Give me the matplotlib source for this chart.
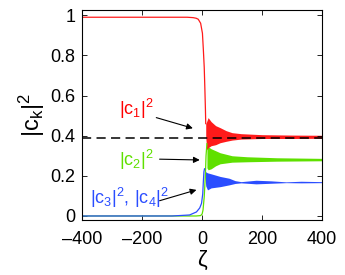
import matplotlib
matplotlib.use('Agg')
import matplotlib.pyplot as plt
import numpy as np

plt.rcParams['font.family'] = ['Liberation Sans', 'DejaVu Sans']
plt.rcParams['mathtext.fontset'] = 'custom'
plt.rcParams['mathtext.rm'] = 'Liberation Sans'
plt.rcParams['mathtext.it'] = 'Liberation Sans'

# smooth (non-oscillating) parts
z_c1 = [-400, -100, -50, -30, -20, -13, -5, 1, 4, 7, 9, 11, 12]
c1 = [0.99, 0.99, 0.99, 0.988, 0.985, 0.98, 0.96, 0.91, 0.83, 0.74, 0.64, 0.53, 0.46]
z_c2 = [-400, -100, -20, -5, 0, 3, 7, 11, 13, 16]
c2 = [0.0, 0.0, 0.0, 0.002, 0.01, 0.03, 0.096, 0.21, 0.30, 0.36]
z_c3 = [-400, -100, -42, -19, -8, -2, 2, 4, 6, 8]
c3 = [0.0, 0.0, 0.005, 0.02, 0.04, 0.063, 0.11, 0.17, 0.22, 0.235]

# envelopes of the fast oscillations
zb_c1 = [12, 15, 20, 30, 45, 60, 80, 100, 130, 200, 300, 400]
c1_hi = [0.46, 0.47, 0.49, 0.47, 0.45, 0.44, 0.425, 0.415, 0.41, 0.405, 0.403, 0.402]
c1_lo = [0.40, 0.33, 0.34, 0.35, 0.355, 0.365, 0.372, 0.378, 0.383, 0.386, 0.386, 0.387]
zb_c2 = [16, 20, 30, 45, 60, 100, 150, 250, 400]
c2_hi = [0.36, 0.345, 0.335, 0.325, 0.315, 0.30, 0.295, 0.29, 0.287]
c2_lo = [0.24, 0.23, 0.235, 0.25, 0.26, 0.268, 0.27, 0.273, 0.275]
zb_c3 = [8, 12, 18, 30, 60, 90, 110, 130, 180, 230, 280, 330, 400]
c3_hi = [0.235, 0.22, 0.215, 0.21, 0.197, 0.188, 0.176, 0.171, 0.178, 0.175, 0.17, 0.173, 0.171]
c3_lo = [0.22, 0.15, 0.13, 0.14, 0.146, 0.155, 0.162, 0.165, 0.16, 0.163, 0.166, 0.165, 0.166]

limit = 0.39

red = '#ff1a1a'
green = '#5fe000'
blue = '#2a4dff'

fig = plt.figure(figsize=(3.45, 2.75), dpi=100)
ax = fig.add_axes([0.2385, 0.2, 0.6948, 0.7636])

ax.plot(z_c2, c2, color=green, lw=0.9)
ax.fill_between(zb_c2, c2_lo, c2_hi, color=green, lw=0)
ax.plot(z_c3, c3, color=blue, lw=0.9)
ax.fill_between(zb_c3, c3_lo, c3_hi, color=blue, lw=0)
ax.plot(z_c1, c1, color=red, lw=0.9)
ax.fill_between(zb_c1, c1_lo, c1_hi, color=red, lw=0)

ax.plot([-400, 400], [limit, limit], color='k', lw=1.1, dashes=(6, 3.5))

arr = dict(arrowstyle='-|>', color='k', lw=0.8, mutation_scale=9, shrinkA=0, shrinkB=0)
ax.annotate('', xy=(-31, 0.437), xytext=(-153, 0.49), arrowprops=arr)
ax.annotate('', xy=(-8, 0.279), xytext=(-142, 0.283), arrowprops=arr)
ax.annotate('', xy=(-19, 0.13), xytext=(-142, 0.076), arrowprops=arr)
ax.text(-220, 0.533, r'$\mathrm{|c_1|^2}$', color='#ff0000', fontsize=13, ha='center', va='center')
ax.text(-219, 0.279, r'$\mathrm{|c_2|^2}$', color=green, fontsize=13, ha='center', va='center')
ax.text(-242, 0.09, r'$\mathrm{|c_3|^2,\,|c_4|^2}$', color=blue, fontsize=13, ha='center', va='center')

ax.set_xlim(-400, 400)
ax.set_ylim(-0.02, 1.026)
ax.set_xticks([-400, -200, 0, 200, 400])
ax.set_xticklabels(['\u2013400', '\u2013200', '0', '200', '400'])
ax.set_yticks([0, 0.2, 0.4, 0.6, 0.8, 1])
ax.set_yticklabels(['0', '0.2', '0.4', '0.6', '0.8', '1'])
ax.tick_params(direction='in', top=True, right=True, length=3.5, width=0.6, labelsize=13)
ax.tick_params(axis='x', pad=8)
ax.tick_params(axis='y', pad=5)
for s in ax.spines.values():
    s.set_linewidth(0.8)
ax.set_xlabel('\u03b6', fontsize=16, labelpad=1)
ax.set_ylabel(r'$\mathrm{|c_k|^2}$', fontsize=17, labelpad=2)

fig.savefig('out.png', dpi=100)
